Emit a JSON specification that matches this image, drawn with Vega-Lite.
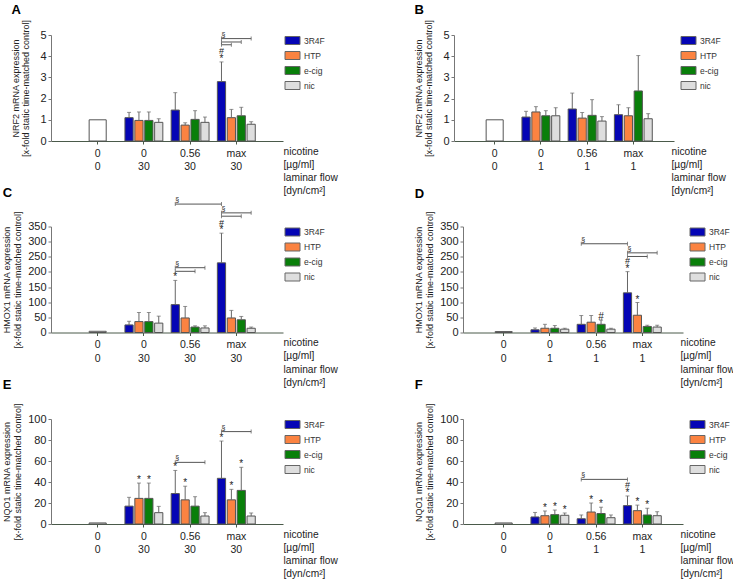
{
"$schema": "https://vega.github.io/schema/vega-lite/v6.json",
"padding": {"left": 2, "top": 4, "right": 0, "bottom": 0},
"background": "white",
"datasets": {
"bars": [
{"p":"A","c":"0|0","g":"control","v":1},
{"p":"A","c":"0|30","g":"3R4F","v":1.10,"u":1.35},
{"p":"A","c":"0|30","g":"HTP","v":0.97,"u":1.37},
{"p":"A","c":"0|30","g":"e-cig","v":0.97,"u":1.37},
{"p":"A","c":"0|30","g":"nic","v":0.88,"u":1.05},
{"p":"A","c":"0.56|30","g":"3R4F","v":1.46,"u":2.28},
{"p":"A","c":"0.56|30","g":"HTP","v":0.75,"u":0.86},
{"p":"A","c":"0.56|30","g":"e-cig","v":1.02,"u":1.43},
{"p":"A","c":"0.56|30","g":"nic","v":0.88,"u":1.13},
{"p":"A","c":"max|30","g":"3R4F","v":2.80,"u":3.73,"s":"*","h":"#"},
{"p":"A","c":"max|30","g":"HTP","v":1.10,"u":1.49},
{"p":"A","c":"max|30","g":"e-cig","v":1.19,"u":1.59},
{"p":"A","c":"max|30","g":"nic","v":0.79,"u":0.91},
{"p":"B","c":"0|0","g":"control","v":1},
{"p":"B","c":"0|1","g":"3R4F","v":1.13,"u":1.40},
{"p":"B","c":"0|1","g":"HTP","v":1.37,"u":1.62},
{"p":"B","c":"0|1","g":"e-cig","v":1.19,"u":1.43},
{"p":"B","c":"0|1","g":"nic","v":1.19,"u":1.57},
{"p":"B","c":"0.56|1","g":"3R4F","v":1.51,"u":2.26},
{"p":"B","c":"0.56|1","g":"HTP","v":1.08,"u":1.34},
{"p":"B","c":"0.56|1","g":"e-cig","v":1.21,"u":1.95},
{"p":"B","c":"0.56|1","g":"nic","v":0.94,"u":1.15},
{"p":"B","c":"max|1","g":"3R4F","v":1.24,"u":1.71},
{"p":"B","c":"max|1","g":"HTP","v":1.19,"u":1.57},
{"p":"B","c":"max|1","g":"e-cig","v":2.36,"u":4.03},
{"p":"B","c":"max|1","g":"nic","v":1.05,"u":1.29},
{"p":"C","c":"0|0","g":"control","v":4},
{"p":"C","c":"0|30","g":"3R4F","v":25,"u":37},
{"p":"C","c":"0|30","g":"HTP","v":36,"u":66},
{"p":"C","c":"0|30","g":"e-cig","v":36,"u":66},
{"p":"C","c":"0|30","g":"nic","v":31,"u":54},
{"p":"C","c":"0.56|30","g":"3R4F","v":92,"u":172,"s":"*"},
{"p":"C","c":"0.56|30","g":"HTP","v":48,"u":86},
{"p":"C","c":"0.56|30","g":"e-cig","v":18,"u":22},
{"p":"C","c":"0.56|30","g":"nic","v":15,"u":22},
{"p":"C","c":"max|30","g":"3R4F","v":230,"u":328,"s":"*","h":"#"},
{"p":"C","c":"max|30","g":"HTP","v":48,"u":73},
{"p":"C","c":"max|30","g":"e-cig","v":42,"u":53},
{"p":"C","c":"max|30","g":"nic","v":14,"u":18},
{"p":"D","c":"0|0","g":"control","v":3},
{"p":"D","c":"0|1","g":"3R4F","v":9,"u":15},
{"p":"D","c":"0|1","g":"HTP","v":14,"u":27},
{"p":"D","c":"0|1","g":"e-cig","v":14,"u":23},
{"p":"D","c":"0|1","g":"nic","v":11,"u":14},
{"p":"D","c":"0.56|1","g":"3R4F","v":27,"u":56},
{"p":"D","c":"0.56|1","g":"HTP","v":34,"u":56},
{"p":"D","c":"0.56|1","g":"e-cig","v":27,"u":41,"s":"#"},
{"p":"D","c":"0.56|1","g":"nic","v":11,"u":14},
{"p":"D","c":"max|1","g":"3R4F","v":131,"u":201,"s":"*","h":"#"},
{"p":"D","c":"max|1","g":"HTP","v":57,"u":99,"s":"*"},
{"p":"D","c":"max|1","g":"e-cig","v":20,"u":24},
{"p":"D","c":"max|1","g":"nic","v":18,"u":24},
{"p":"E","c":"0|0","g":"control","v":1},
{"p":"E","c":"0|30","g":"3R4F","v":17,"u":25.4},
{"p":"E","c":"0|30","g":"HTP","v":24.4,"u":39,"s":"*"},
{"p":"E","c":"0|30","g":"e-cig","v":24.4,"u":39,"s":"*"},
{"p":"E","c":"0|30","g":"nic","v":10.8,"u":16.8},
{"p":"E","c":"0.56|30","g":"3R4F","v":29,"u":51,"s":"*"},
{"p":"E","c":"0.56|30","g":"HTP","v":23,"u":36,"s":"*"},
{"p":"E","c":"0.56|30","g":"e-cig","v":17,"u":26},
{"p":"E","c":"0.56|30","g":"nic","v":7.6,"u":10.8},
{"p":"E","c":"max|30","g":"3R4F","v":43.5,"u":79,"s":"*"},
{"p":"E","c":"max|30","g":"HTP","v":23,"u":33,"s":"*"},
{"p":"E","c":"max|30","g":"e-cig","v":32,"u":54,"s":"*"},
{"p":"E","c":"max|30","g":"nic","v":7.6,"u":10.5},
{"p":"F","c":"0|0","g":"control","v":1},
{"p":"F","c":"0|1","g":"3R4F","v":6.7,"u":11},
{"p":"F","c":"0|1","g":"HTP","v":7.9,"u":12.4,"s":"*"},
{"p":"F","c":"0|1","g":"e-cig","v":8.9,"u":13.3,"s":"*"},
{"p":"F","c":"0|1","g":"nic","v":8.3,"u":10.5,"s":"*"},
{"p":"F","c":"0.56|1","g":"3R4F","v":5,"u":8.6},
{"p":"F","c":"0.56|1","g":"HTP","v":11.4,"u":20,"s":"*"},
{"p":"F","c":"0.56|1","g":"e-cig","v":10,"u":16,"s":"*"},
{"p":"F","c":"0.56|1","g":"nic","v":6,"u":8.6},
{"p":"F","c":"max|1","g":"3R4F","v":17.5,"u":26.7,"s":"*","h":"#"},
{"p":"F","c":"max|1","g":"HTP","v":12.7,"u":18,"s":"*"},
{"p":"F","c":"max|1","g":"e-cig","v":8.6,"u":15,"s":"*"},
{"p":"F","c":"max|1","g":"nic","v":7.9,"u":11.7}
],
"br": [
{"p":"A","id":"A1","c":"max|30","g":"3R4F","y":4.83,"s":"§"},
{"p":"A","id":"A1","c":"max|30","g":"nic","y":4.83},
{"p":"A","id":"A2","c":"max|30","g":"3R4F","y":4.67},
{"p":"A","id":"A2","c":"max|30","g":"e-cig","y":4.67},
{"p":"A","id":"A3","c":"max|30","g":"3R4F","y":4.54},
{"p":"A","id":"A3","c":"max|30","g":"HTP","y":4.54},
{"p":"C","id":"C1","c":"0.56|30","g":"3R4F","y":424,"s":"§"},
{"p":"C","id":"C1","c":"max|30","g":"3R4F","y":424},
{"p":"C","id":"C2","c":"0.56|30","g":"3R4F","y":214,"s":"§"},
{"p":"C","id":"C2","c":"0.56|30","g":"nic","y":214},
{"p":"C","id":"C3","c":"0.56|30","g":"3R4F","y":202},
{"p":"C","id":"C3","c":"0.56|30","g":"e-cig","y":202},
{"p":"C","id":"C4","c":"max|30","g":"3R4F","y":395,"s":"§"},
{"p":"C","id":"C4","c":"max|30","g":"nic","y":395},
{"p":"C","id":"C5","c":"max|30","g":"3R4F","y":384},
{"p":"C","id":"C5","c":"max|30","g":"e-cig","y":384},
{"p":"D","id":"D1","c":"0.56|1","g":"3R4F","y":293,"s":"§"},
{"p":"D","id":"D1","c":"max|1","g":"3R4F","y":293},
{"p":"D","id":"D2","c":"max|1","g":"3R4F","y":263,"s":"§"},
{"p":"D","id":"D2","c":"max|1","g":"nic","y":263},
{"p":"D","id":"D3","c":"max|1","g":"3R4F","y":251},
{"p":"D","id":"D3","c":"max|1","g":"e-cig","y":251},
{"p":"E","id":"E1","c":"0.56|30","g":"3R4F","y":58.7,"s":"§"},
{"p":"E","id":"E1","c":"0.56|30","g":"nic","y":58.7},
{"p":"E","id":"E2","c":"max|30","g":"3R4F","y":88,"s":"§"},
{"p":"E","id":"E2","c":"max|30","g":"nic","y":88},
{"p":"F","id":"F1","c":"0.56|1","g":"3R4F","y":42.5,"s":"§"},
{"p":"F","id":"F1","c":"max|1","g":"3R4F","y":42.5}
]
},
"spacing": -10.5,
"resolve": {"scale": {"color": "independent"}, "legend": {"color": "independent"}},
"vconcat": [
{"hconcat": [
{"title": {"text": "A", "offset": 2}, "width": 232, "height": 106, "layer": [
{"data": {"name": "bars"}, "transform": [{"filter": "datum.p==='A' && datum.g==='control'"}], "mark": {"type": "bar", "fill": "white", "stroke": "#555", "width": {"band": 0.45}},
 "encoding": {"x": {"field": "c", "type": "nominal", "scale": {"domain": ["0|0","0|30","0.56|30","max|30"], "paddingInner": 0.18, "paddingOuter": 0.6}, "axis": {"title": ["nicotine","[µg/ml]","laminar flow","[dyn/cm²]"], "titleX": 232}},
  "y": {"field": "v", "type": "quantitative", "scale": {"domain": [0,5], "nice": false}, "axis": {"values": [0,1,2,3,4,5], "tickCount": 6, "labelOverlap": false, "titlePadding": 9, "title": ["NRF2 mRNA expression","[x-fold static time-matched control]"]}}}},
{"data": {"name": "bars"}, "transform": [{"filter": "datum.p==='A' && datum.g!=='control'"}], "mark": {"type": "bar", "stroke": "#555"},
 "encoding": {"x": {"field": "c", "type": "nominal"}, "xOffset": {"field": "g", "type": "nominal", "scale": {"domain": ["3R4F","HTP","e-cig","nic"], "paddingInner": 0.17}}, "y": {"field": "v", "type": "quantitative", "axis": {"values": [0,1,2,3,4,5], "tickCount": 6, "labelOverlap": false, "titlePadding": 9, "title": ["NRF2 mRNA expression","[x-fold static time-matched control]"]}},
  "color": {"field": "g", "type": "nominal", "scale": {"domain": ["3R4F","HTP","e-cig","nic"], "range": ["#0505b5","#fb8341","#097f0a","#dedede"]}, "legend": {"title": null}}}},
{"data": {"name": "bars"}, "transform": [{"filter": "datum.p==='A' && datum.u!=null"}], "mark": {"type": "rule", "color": "#666"},
 "encoding": {"x": {"field": "c", "type": "nominal"}, "xOffset": {"field": "g", "type": "nominal"}, "y": {"field": "v", "type": "quantitative", "axis": {"values": [0,1,2,3,4,5], "tickCount": 6, "labelOverlap": false, "titlePadding": 9, "title": ["NRF2 mRNA expression","[x-fold static time-matched control]"]}}, "y2": {"field": "u"}}},
{"data": {"name": "bars"}, "transform": [{"filter": "datum.p==='A' && datum.u!=null"}], "mark": {"type": "tick", "color": "#666", "size": 4, "thickness": 1, "orient": "horizontal"},
 "encoding": {"x": {"field": "c", "type": "nominal"}, "xOffset": {"field": "g", "type": "nominal"}, "y": {"field": "u", "type": "quantitative", "axis": {"values": [0,1,2,3,4,5], "tickCount": 6, "labelOverlap": false, "titlePadding": 9, "title": ["NRF2 mRNA expression","[x-fold static time-matched control]"]}}}},
{"data": {"name": "bars"}, "transform": [{"filter": "datum.p==='A' && datum.s"}], "mark": {"type": "text", "baseline": "bottom", "fontSize": 10, "dy": 2, "color": "#222"},
 "encoding": {"x": {"field": "c", "type": "nominal"}, "xOffset": {"field": "g", "type": "nominal"}, "y": {"field": "u", "type": "quantitative", "axis": {"values": [0,1,2,3,4,5], "tickCount": 6, "labelOverlap": false, "titlePadding": 9, "title": ["NRF2 mRNA expression","[x-fold static time-matched control]"]}}, "text": {"field": "s"}}},
{"data": {"name": "bars"}, "transform": [{"filter": "datum.p==='A' && datum.h"}], "mark": {"type": "text", "baseline": "bottom", "fontSize": 9, "dy": -5.5, "color": "#222"},
 "encoding": {"x": {"field": "c", "type": "nominal"}, "xOffset": {"field": "g", "type": "nominal"}, "y": {"field": "u", "type": "quantitative", "axis": {"values": [0,1,2,3,4,5], "tickCount": 6, "labelOverlap": false, "titlePadding": 9, "title": ["NRF2 mRNA expression","[x-fold static time-matched control]"]}}, "text": {"field": "h"}}},
{"data": {"name": "br"}, "transform": [{"filter": "datum.p==='A'"}], "mark": {"type": "line", "color": "#555", "strokeWidth": 1},
 "encoding": {"x": {"field": "c", "type": "nominal"}, "xOffset": {"field": "g", "type": "nominal"}, "y": {"field": "y", "type": "quantitative", "axis": {"values": [0,1,2,3,4,5], "tickCount": 6, "labelOverlap": false, "titlePadding": 9, "title": ["NRF2 mRNA expression","[x-fold static time-matched control]"]}}, "detail": {"field": "id"}}},
{"data": {"name": "br"}, "transform": [{"filter": "datum.p==='A'"}], "mark": {"type": "tick", "color": "#555", "size": 4, "thickness": 1, "orient": "vertical"},
 "encoding": {"x": {"field": "c", "type": "nominal"}, "xOffset": {"field": "g", "type": "nominal"}, "y": {"field": "y", "type": "quantitative", "axis": {"values": [0,1,2,3,4,5], "tickCount": 6, "labelOverlap": false, "titlePadding": 9, "title": ["NRF2 mRNA expression","[x-fold static time-matched control]"]}}}},
{"data": {"name": "br"}, "transform": [{"filter": "datum.p==='A' && datum.s"}], "mark": {"type": "text", "align": "left", "baseline": "bottom", "fontSize": 7, "dy": -1, "color": "#222"},
 "encoding": {"x": {"field": "c", "type": "nominal"}, "xOffset": {"field": "g", "type": "nominal"}, "y": {"field": "y", "type": "quantitative", "axis": {"values": [0,1,2,3,4,5], "tickCount": 6, "labelOverlap": false, "titlePadding": 9, "title": ["NRF2 mRNA expression","[x-fold static time-matched control]"]}}, "text": {"field": "s"}}}
]},
{"title": {"text": "B", "offset": 2}, "width": 220, "height": 106, "layer": [
{"data": {"name": "bars"}, "transform": [{"filter": "datum.p==='B' && datum.g==='control'"}], "mark": {"type": "bar", "fill": "white", "stroke": "#555", "width": {"band": 0.45}},
 "encoding": {"x": {"field": "c", "type": "nominal", "scale": {"domain": ["0|0","0|1","0.56|1","max|1"], "paddingInner": 0.18, "paddingOuter": 0.47}, "axis": {"title": ["nicotine","[µg/ml]","laminar flow","[dyn/cm²]"], "titleX": 217}},
  "y": {"field": "v", "type": "quantitative", "scale": {"domain": [0,5], "nice": false}, "axis": {"values": [0,1,2,3,4,5], "tickCount": 6, "labelOverlap": false, "titlePadding": 9, "title": ["NRF2 mRNA expression","[x-fold static time-matched control]"]}}}},
{"data": {"name": "bars"}, "transform": [{"filter": "datum.p==='B' && datum.g!=='control'"}], "mark": {"type": "bar", "stroke": "#555"},
 "encoding": {"x": {"field": "c", "type": "nominal"}, "xOffset": {"field": "g", "type": "nominal", "scale": {"domain": ["3R4F","HTP","e-cig","nic"], "paddingInner": 0.17}}, "y": {"field": "v", "type": "quantitative", "axis": {"values": [0,1,2,3,4,5], "tickCount": 6, "labelOverlap": false, "titlePadding": 9, "title": ["NRF2 mRNA expression","[x-fold static time-matched control]"]}},
  "color": {"field": "g", "type": "nominal", "scale": {"domain": ["3R4F","HTP","e-cig","nic"], "range": ["#0505b5","#fb8341","#097f0a","#dedede"]}, "legend": {"title": null, "offset": 9}}}},
{"data": {"name": "bars"}, "transform": [{"filter": "datum.p==='B' && datum.u!=null"}], "mark": {"type": "rule", "color": "#666"},
 "encoding": {"x": {"field": "c", "type": "nominal"}, "xOffset": {"field": "g", "type": "nominal"}, "y": {"field": "v", "type": "quantitative", "axis": {"values": [0,1,2,3,4,5], "tickCount": 6, "labelOverlap": false, "titlePadding": 9, "title": ["NRF2 mRNA expression","[x-fold static time-matched control]"]}}, "y2": {"field": "u"}}},
{"data": {"name": "bars"}, "transform": [{"filter": "datum.p==='B' && datum.u!=null"}], "mark": {"type": "tick", "color": "#666", "size": 4, "thickness": 1, "orient": "horizontal"},
 "encoding": {"x": {"field": "c", "type": "nominal"}, "xOffset": {"field": "g", "type": "nominal"}, "y": {"field": "u", "type": "quantitative", "axis": {"values": [0,1,2,3,4,5], "tickCount": 6, "labelOverlap": false, "titlePadding": 9, "title": ["NRF2 mRNA expression","[x-fold static time-matched control]"]}}}}
]}
], "spacing": 76, "resolve": {"scale": {"color": "independent"}, "legend": {"color": "independent"}}},
{"hconcat": [
{"title": {"text": "C", "offset": -4}, "width": 232, "height": 106, "layer": [
{"data": {"name": "bars"}, "transform": [{"filter": "datum.p==='C' && datum.g==='control'"}], "mark": {"type": "bar", "fill": "white", "stroke": "#555", "width": {"band": 0.45}},
 "encoding": {"x": {"field": "c", "type": "nominal", "scale": {"domain": ["0|0","0|30","0.56|30","max|30"], "paddingInner": 0.18, "paddingOuter": 0.6}, "axis": {"title": ["nicotine","[µg/ml]","laminar flow","[dyn/cm²]"], "titleX": 232}},
  "y": {"field": "v", "type": "quantitative", "scale": {"domain": [0,350], "nice": false}, "axis": {"values": [0,50,100,150,200,250,300,350], "tickCount": 8, "labelOverlap": false, "titlePadding": 5.5, "title": ["HMOX1 mRNA expression","[x-fold static time-matched control]"]}}}},
{"data": {"name": "bars"}, "transform": [{"filter": "datum.p==='C' && datum.g!=='control'"}], "mark": {"type": "bar", "stroke": "#555"},
 "encoding": {"x": {"field": "c", "type": "nominal"}, "xOffset": {"field": "g", "type": "nominal", "scale": {"domain": ["3R4F","HTP","e-cig","nic"], "paddingInner": 0.17}}, "y": {"field": "v", "type": "quantitative", "axis": {"values": [0,50,100,150,200,250,300,350], "tickCount": 8, "labelOverlap": false, "titlePadding": 5.5, "title": ["HMOX1 mRNA expression","[x-fold static time-matched control]"]}},
  "color": {"field": "g", "type": "nominal", "scale": {"domain": ["3R4F","HTP","e-cig","nic"], "range": ["#0505b5","#fb8341","#097f0a","#dedede"]}, "legend": {"title": null}}}},
{"data": {"name": "bars"}, "transform": [{"filter": "datum.p==='C' && datum.u!=null"}], "mark": {"type": "rule", "color": "#666"},
 "encoding": {"x": {"field": "c", "type": "nominal"}, "xOffset": {"field": "g", "type": "nominal"}, "y": {"field": "v", "type": "quantitative", "axis": {"values": [0,50,100,150,200,250,300,350], "tickCount": 8, "labelOverlap": false, "titlePadding": 5.5, "title": ["HMOX1 mRNA expression","[x-fold static time-matched control]"]}}, "y2": {"field": "u"}}},
{"data": {"name": "bars"}, "transform": [{"filter": "datum.p==='C' && datum.u!=null"}], "mark": {"type": "tick", "color": "#666", "size": 4, "thickness": 1, "orient": "horizontal"},
 "encoding": {"x": {"field": "c", "type": "nominal"}, "xOffset": {"field": "g", "type": "nominal"}, "y": {"field": "u", "type": "quantitative", "axis": {"values": [0,50,100,150,200,250,300,350], "tickCount": 8, "labelOverlap": false, "titlePadding": 5.5, "title": ["HMOX1 mRNA expression","[x-fold static time-matched control]"]}}}},
{"data": {"name": "bars"}, "transform": [{"filter": "datum.p==='C' && datum.s"}], "mark": {"type": "text", "baseline": "bottom", "fontSize": 10, "dy": 2, "color": "#222"},
 "encoding": {"x": {"field": "c", "type": "nominal"}, "xOffset": {"field": "g", "type": "nominal"}, "y": {"field": "u", "type": "quantitative", "axis": {"values": [0,50,100,150,200,250,300,350], "tickCount": 8, "labelOverlap": false, "titlePadding": 5.5, "title": ["HMOX1 mRNA expression","[x-fold static time-matched control]"]}}, "text": {"field": "s"}}},
{"data": {"name": "bars"}, "transform": [{"filter": "datum.p==='C' && datum.h"}], "mark": {"type": "text", "baseline": "bottom", "fontSize": 9, "dy": -5.5, "color": "#222"},
 "encoding": {"x": {"field": "c", "type": "nominal"}, "xOffset": {"field": "g", "type": "nominal"}, "y": {"field": "u", "type": "quantitative", "axis": {"values": [0,50,100,150,200,250,300,350], "tickCount": 8, "labelOverlap": false, "titlePadding": 5.5, "title": ["HMOX1 mRNA expression","[x-fold static time-matched control]"]}}, "text": {"field": "h"}}},
{"data": {"name": "br"}, "transform": [{"filter": "datum.p==='C'"}], "mark": {"type": "line", "color": "#555", "strokeWidth": 1},
 "encoding": {"x": {"field": "c", "type": "nominal"}, "xOffset": {"field": "g", "type": "nominal"}, "y": {"field": "y", "type": "quantitative", "axis": {"values": [0,50,100,150,200,250,300,350], "tickCount": 8, "labelOverlap": false, "titlePadding": 5.5, "title": ["HMOX1 mRNA expression","[x-fold static time-matched control]"]}}, "detail": {"field": "id"}}},
{"data": {"name": "br"}, "transform": [{"filter": "datum.p==='C'"}], "mark": {"type": "tick", "color": "#555", "size": 4, "thickness": 1, "orient": "vertical"},
 "encoding": {"x": {"field": "c", "type": "nominal"}, "xOffset": {"field": "g", "type": "nominal"}, "y": {"field": "y", "type": "quantitative", "axis": {"values": [0,50,100,150,200,250,300,350], "tickCount": 8, "labelOverlap": false, "titlePadding": 5.5, "title": ["HMOX1 mRNA expression","[x-fold static time-matched control]"]}}}},
{"data": {"name": "br"}, "transform": [{"filter": "datum.p==='C' && datum.s"}], "mark": {"type": "text", "align": "left", "baseline": "bottom", "fontSize": 7, "dy": -1, "color": "#222"},
 "encoding": {"x": {"field": "c", "type": "nominal"}, "xOffset": {"field": "g", "type": "nominal"}, "y": {"field": "y", "type": "quantitative", "axis": {"values": [0,50,100,150,200,250,300,350], "tickCount": 8, "labelOverlap": false, "titlePadding": 5.5, "title": ["HMOX1 mRNA expression","[x-fold static time-matched control]"]}}, "text": {"field": "s"}}}
]},
{"title": {"text": "D", "offset": 10}, "width": 220, "height": 106, "layer": [
{"data": {"name": "bars"}, "transform": [{"filter": "datum.p==='D' && datum.g==='control'"}], "mark": {"type": "bar", "fill": "white", "stroke": "#555", "width": {"band": 0.45}},
 "encoding": {"x": {"field": "c", "type": "nominal", "scale": {"domain": ["0|0","0|1","0.56|1","max|1"], "paddingInner": 0.18, "paddingOuter": 0.47}, "axis": {"title": ["nicotine","[µg/ml]","laminar flow","[dyn/cm²]"], "titleX": 217}},
  "y": {"field": "v", "type": "quantitative", "scale": {"domain": [0,350], "nice": false}, "axis": {"values": [0,50,100,150,200,250,300,350], "tickCount": 8, "labelOverlap": false, "titlePadding": 5.5, "title": ["HMOX1 mRNA expression","[x-fold static time-matched control]"]}}}},
{"data": {"name": "bars"}, "transform": [{"filter": "datum.p==='D' && datum.g!=='control'"}], "mark": {"type": "bar", "stroke": "#555"},
 "encoding": {"x": {"field": "c", "type": "nominal"}, "xOffset": {"field": "g", "type": "nominal", "scale": {"domain": ["3R4F","HTP","e-cig","nic"], "paddingInner": 0.17}}, "y": {"field": "v", "type": "quantitative", "axis": {"values": [0,50,100,150,200,250,300,350], "tickCount": 8, "labelOverlap": false, "titlePadding": 5.5, "title": ["HMOX1 mRNA expression","[x-fold static time-matched control]"]}},
  "color": {"field": "g", "type": "nominal", "scale": {"domain": ["3R4F","HTP","e-cig","nic"], "range": ["#0505b5","#fb8341","#097f0a","#dedede"]}, "legend": {"title": null, "offset": 9}}}},
{"data": {"name": "bars"}, "transform": [{"filter": "datum.p==='D' && datum.u!=null"}], "mark": {"type": "rule", "color": "#666"},
 "encoding": {"x": {"field": "c", "type": "nominal"}, "xOffset": {"field": "g", "type": "nominal"}, "y": {"field": "v", "type": "quantitative", "axis": {"values": [0,50,100,150,200,250,300,350], "tickCount": 8, "labelOverlap": false, "titlePadding": 5.5, "title": ["HMOX1 mRNA expression","[x-fold static time-matched control]"]}}, "y2": {"field": "u"}}},
{"data": {"name": "bars"}, "transform": [{"filter": "datum.p==='D' && datum.u!=null"}], "mark": {"type": "tick", "color": "#666", "size": 4, "thickness": 1, "orient": "horizontal"},
 "encoding": {"x": {"field": "c", "type": "nominal"}, "xOffset": {"field": "g", "type": "nominal"}, "y": {"field": "u", "type": "quantitative", "axis": {"values": [0,50,100,150,200,250,300,350], "tickCount": 8, "labelOverlap": false, "titlePadding": 5.5, "title": ["HMOX1 mRNA expression","[x-fold static time-matched control]"]}}}},
{"data": {"name": "bars"}, "transform": [{"filter": "datum.p==='D' && datum.s"}], "mark": {"type": "text", "baseline": "bottom", "fontSize": 10, "dy": 2, "color": "#222"},
 "encoding": {"x": {"field": "c", "type": "nominal"}, "xOffset": {"field": "g", "type": "nominal"}, "y": {"field": "u", "type": "quantitative", "axis": {"values": [0,50,100,150,200,250,300,350], "tickCount": 8, "labelOverlap": false, "titlePadding": 5.5, "title": ["HMOX1 mRNA expression","[x-fold static time-matched control]"]}}, "text": {"field": "s"}}},
{"data": {"name": "bars"}, "transform": [{"filter": "datum.p==='D' && datum.h"}], "mark": {"type": "text", "baseline": "bottom", "fontSize": 9, "dy": -5.5, "color": "#222"},
 "encoding": {"x": {"field": "c", "type": "nominal"}, "xOffset": {"field": "g", "type": "nominal"}, "y": {"field": "u", "type": "quantitative", "axis": {"values": [0,50,100,150,200,250,300,350], "tickCount": 8, "labelOverlap": false, "titlePadding": 5.5, "title": ["HMOX1 mRNA expression","[x-fold static time-matched control]"]}}, "text": {"field": "h"}}},
{"data": {"name": "br"}, "transform": [{"filter": "datum.p==='D'"}], "mark": {"type": "line", "color": "#555", "strokeWidth": 1},
 "encoding": {"x": {"field": "c", "type": "nominal"}, "xOffset": {"field": "g", "type": "nominal"}, "y": {"field": "y", "type": "quantitative", "axis": {"values": [0,50,100,150,200,250,300,350], "tickCount": 8, "labelOverlap": false, "titlePadding": 5.5, "title": ["HMOX1 mRNA expression","[x-fold static time-matched control]"]}}, "detail": {"field": "id"}}},
{"data": {"name": "br"}, "transform": [{"filter": "datum.p==='D'"}], "mark": {"type": "tick", "color": "#555", "size": 4, "thickness": 1, "orient": "vertical"},
 "encoding": {"x": {"field": "c", "type": "nominal"}, "xOffset": {"field": "g", "type": "nominal"}, "y": {"field": "y", "type": "quantitative", "axis": {"values": [0,50,100,150,200,250,300,350], "tickCount": 8, "labelOverlap": false, "titlePadding": 5.5, "title": ["HMOX1 mRNA expression","[x-fold static time-matched control]"]}}}},
{"data": {"name": "br"}, "transform": [{"filter": "datum.p==='D' && datum.s"}], "mark": {"type": "text", "align": "left", "baseline": "bottom", "fontSize": 7, "dy": -1, "color": "#222"},
 "encoding": {"x": {"field": "c", "type": "nominal"}, "xOffset": {"field": "g", "type": "nominal"}, "y": {"field": "y", "type": "quantitative", "axis": {"values": [0,50,100,150,200,250,300,350], "tickCount": 8, "labelOverlap": false, "titlePadding": 5.5, "title": ["HMOX1 mRNA expression","[x-fold static time-matched control]"]}}, "text": {"field": "s"}}}
]}
], "spacing": 76, "resolve": {"scale": {"color": "independent"}, "legend": {"color": "independent"}}},
{"hconcat": [
{"title": {"text": "E", "offset": 11}, "width": 232, "height": 105, "layer": [
{"data": {"name": "bars"}, "transform": [{"filter": "datum.p==='E' && datum.g==='control'"}], "mark": {"type": "bar", "fill": "white", "stroke": "#555", "width": {"band": 0.45}},
 "encoding": {"x": {"field": "c", "type": "nominal", "scale": {"domain": ["0|0","0|30","0.56|30","max|30"], "paddingInner": 0.18, "paddingOuter": 0.6}, "axis": {"title": ["nicotine","[µg/ml]","laminar flow","[dyn/cm²]"], "titleX": 232}},
  "y": {"field": "v", "type": "quantitative", "scale": {"domain": [0,100], "nice": false}, "axis": {"values": [0,20,40,60,80,100], "tickCount": 6, "labelOverlap": false, "titlePadding": 5.5, "title": ["NQO1 mRNA expression","[x-fold static time-matched control]"]}}}},
{"data": {"name": "bars"}, "transform": [{"filter": "datum.p==='E' && datum.g!=='control'"}], "mark": {"type": "bar", "stroke": "#555"},
 "encoding": {"x": {"field": "c", "type": "nominal"}, "xOffset": {"field": "g", "type": "nominal", "scale": {"domain": ["3R4F","HTP","e-cig","nic"], "paddingInner": 0.17}}, "y": {"field": "v", "type": "quantitative", "axis": {"values": [0,20,40,60,80,100], "tickCount": 6, "labelOverlap": false, "titlePadding": 5.5, "title": ["NQO1 mRNA expression","[x-fold static time-matched control]"]}},
  "color": {"field": "g", "type": "nominal", "scale": {"domain": ["3R4F","HTP","e-cig","nic"], "range": ["#0505b5","#fb8341","#097f0a","#dedede"]}, "legend": {"title": null}}}},
{"data": {"name": "bars"}, "transform": [{"filter": "datum.p==='E' && datum.u!=null"}], "mark": {"type": "rule", "color": "#666"},
 "encoding": {"x": {"field": "c", "type": "nominal"}, "xOffset": {"field": "g", "type": "nominal"}, "y": {"field": "v", "type": "quantitative", "axis": {"values": [0,20,40,60,80,100], "tickCount": 6, "labelOverlap": false, "titlePadding": 5.5, "title": ["NQO1 mRNA expression","[x-fold static time-matched control]"]}}, "y2": {"field": "u"}}},
{"data": {"name": "bars"}, "transform": [{"filter": "datum.p==='E' && datum.u!=null"}], "mark": {"type": "tick", "color": "#666", "size": 4, "thickness": 1, "orient": "horizontal"},
 "encoding": {"x": {"field": "c", "type": "nominal"}, "xOffset": {"field": "g", "type": "nominal"}, "y": {"field": "u", "type": "quantitative", "axis": {"values": [0,20,40,60,80,100], "tickCount": 6, "labelOverlap": false, "titlePadding": 5.5, "title": ["NQO1 mRNA expression","[x-fold static time-matched control]"]}}}},
{"data": {"name": "bars"}, "transform": [{"filter": "datum.p==='E' && datum.s"}], "mark": {"type": "text", "baseline": "bottom", "fontSize": 10, "dy": 2, "color": "#222"},
 "encoding": {"x": {"field": "c", "type": "nominal"}, "xOffset": {"field": "g", "type": "nominal"}, "y": {"field": "u", "type": "quantitative", "axis": {"values": [0,20,40,60,80,100], "tickCount": 6, "labelOverlap": false, "titlePadding": 5.5, "title": ["NQO1 mRNA expression","[x-fold static time-matched control]"]}}, "text": {"field": "s"}}},
{"data": {"name": "br"}, "transform": [{"filter": "datum.p==='E'"}], "mark": {"type": "line", "color": "#555", "strokeWidth": 1},
 "encoding": {"x": {"field": "c", "type": "nominal"}, "xOffset": {"field": "g", "type": "nominal"}, "y": {"field": "y", "type": "quantitative", "axis": {"values": [0,20,40,60,80,100], "tickCount": 6, "labelOverlap": false, "titlePadding": 5.5, "title": ["NQO1 mRNA expression","[x-fold static time-matched control]"]}}, "detail": {"field": "id"}}},
{"data": {"name": "br"}, "transform": [{"filter": "datum.p==='E'"}], "mark": {"type": "tick", "color": "#555", "size": 4, "thickness": 1, "orient": "vertical"},
 "encoding": {"x": {"field": "c", "type": "nominal"}, "xOffset": {"field": "g", "type": "nominal"}, "y": {"field": "y", "type": "quantitative", "axis": {"values": [0,20,40,60,80,100], "tickCount": 6, "labelOverlap": false, "titlePadding": 5.5, "title": ["NQO1 mRNA expression","[x-fold static time-matched control]"]}}}},
{"data": {"name": "br"}, "transform": [{"filter": "datum.p==='E' && datum.s"}], "mark": {"type": "text", "align": "left", "baseline": "bottom", "fontSize": 7, "dy": -1, "color": "#222"},
 "encoding": {"x": {"field": "c", "type": "nominal"}, "xOffset": {"field": "g", "type": "nominal"}, "y": {"field": "y", "type": "quantitative", "axis": {"values": [0,20,40,60,80,100], "tickCount": 6, "labelOverlap": false, "titlePadding": 5.5, "title": ["NQO1 mRNA expression","[x-fold static time-matched control]"]}}, "text": {"field": "s"}}}
]},
{"title": {"text": "F", "offset": 11}, "width": 220, "height": 105, "layer": [
{"data": {"name": "bars"}, "transform": [{"filter": "datum.p==='F' && datum.g==='control'"}], "mark": {"type": "bar", "fill": "white", "stroke": "#555", "width": {"band": 0.45}},
 "encoding": {"x": {"field": "c", "type": "nominal", "scale": {"domain": ["0|0","0|1","0.56|1","max|1"], "paddingInner": 0.18, "paddingOuter": 0.47}, "axis": {"title": ["nicotine","[µg/ml]","laminar flow","[dyn/cm²]"], "titleX": 217}},
  "y": {"field": "v", "type": "quantitative", "scale": {"domain": [0,100], "nice": false}, "axis": {"values": [0,20,40,60,80,100], "tickCount": 6, "labelOverlap": false, "titlePadding": 5.5, "title": ["NQO1 mRNA expression","[x-fold static time-matched control]"]}}}},
{"data": {"name": "bars"}, "transform": [{"filter": "datum.p==='F' && datum.g!=='control'"}], "mark": {"type": "bar", "stroke": "#555"},
 "encoding": {"x": {"field": "c", "type": "nominal"}, "xOffset": {"field": "g", "type": "nominal", "scale": {"domain": ["3R4F","HTP","e-cig","nic"], "paddingInner": 0.17}}, "y": {"field": "v", "type": "quantitative", "axis": {"values": [0,20,40,60,80,100], "tickCount": 6, "labelOverlap": false, "titlePadding": 5.5, "title": ["NQO1 mRNA expression","[x-fold static time-matched control]"]}},
  "color": {"field": "g", "type": "nominal", "scale": {"domain": ["3R4F","HTP","e-cig","nic"], "range": ["#0505b5","#fb8341","#097f0a","#dedede"]}, "legend": {"title": null, "offset": 9}}}},
{"data": {"name": "bars"}, "transform": [{"filter": "datum.p==='F' && datum.u!=null"}], "mark": {"type": "rule", "color": "#666"},
 "encoding": {"x": {"field": "c", "type": "nominal"}, "xOffset": {"field": "g", "type": "nominal"}, "y": {"field": "v", "type": "quantitative", "axis": {"values": [0,20,40,60,80,100], "tickCount": 6, "labelOverlap": false, "titlePadding": 5.5, "title": ["NQO1 mRNA expression","[x-fold static time-matched control]"]}}, "y2": {"field": "u"}}},
{"data": {"name": "bars"}, "transform": [{"filter": "datum.p==='F' && datum.u!=null"}], "mark": {"type": "tick", "color": "#666", "size": 4, "thickness": 1, "orient": "horizontal"},
 "encoding": {"x": {"field": "c", "type": "nominal"}, "xOffset": {"field": "g", "type": "nominal"}, "y": {"field": "u", "type": "quantitative", "axis": {"values": [0,20,40,60,80,100], "tickCount": 6, "labelOverlap": false, "titlePadding": 5.5, "title": ["NQO1 mRNA expression","[x-fold static time-matched control]"]}}}},
{"data": {"name": "bars"}, "transform": [{"filter": "datum.p==='F' && datum.s"}], "mark": {"type": "text", "baseline": "bottom", "fontSize": 10, "dy": 2, "color": "#222"},
 "encoding": {"x": {"field": "c", "type": "nominal"}, "xOffset": {"field": "g", "type": "nominal"}, "y": {"field": "u", "type": "quantitative", "axis": {"values": [0,20,40,60,80,100], "tickCount": 6, "labelOverlap": false, "titlePadding": 5.5, "title": ["NQO1 mRNA expression","[x-fold static time-matched control]"]}}, "text": {"field": "s"}}},
{"data": {"name": "bars"}, "transform": [{"filter": "datum.p==='F' && datum.h"}], "mark": {"type": "text", "baseline": "bottom", "fontSize": 9, "dy": -5.5, "color": "#222"},
 "encoding": {"x": {"field": "c", "type": "nominal"}, "xOffset": {"field": "g", "type": "nominal"}, "y": {"field": "u", "type": "quantitative", "axis": {"values": [0,20,40,60,80,100], "tickCount": 6, "labelOverlap": false, "titlePadding": 5.5, "title": ["NQO1 mRNA expression","[x-fold static time-matched control]"]}}, "text": {"field": "h"}}},
{"data": {"name": "br"}, "transform": [{"filter": "datum.p==='F'"}], "mark": {"type": "line", "color": "#555", "strokeWidth": 1},
 "encoding": {"x": {"field": "c", "type": "nominal"}, "xOffset": {"field": "g", "type": "nominal"}, "y": {"field": "y", "type": "quantitative", "axis": {"values": [0,20,40,60,80,100], "tickCount": 6, "labelOverlap": false, "titlePadding": 5.5, "title": ["NQO1 mRNA expression","[x-fold static time-matched control]"]}}, "detail": {"field": "id"}}},
{"data": {"name": "br"}, "transform": [{"filter": "datum.p==='F'"}], "mark": {"type": "tick", "color": "#555", "size": 4, "thickness": 1, "orient": "vertical"},
 "encoding": {"x": {"field": "c", "type": "nominal"}, "xOffset": {"field": "g", "type": "nominal"}, "y": {"field": "y", "type": "quantitative", "axis": {"values": [0,20,40,60,80,100], "tickCount": 6, "labelOverlap": false, "titlePadding": 5.5, "title": ["NQO1 mRNA expression","[x-fold static time-matched control]"]}}}},
{"data": {"name": "br"}, "transform": [{"filter": "datum.p==='F' && datum.s"}], "mark": {"type": "text", "align": "left", "baseline": "bottom", "fontSize": 7, "dy": -1, "color": "#222"},
 "encoding": {"x": {"field": "c", "type": "nominal"}, "xOffset": {"field": "g", "type": "nominal"}, "y": {"field": "y", "type": "quantitative", "axis": {"values": [0,20,40,60,80,100], "tickCount": 6, "labelOverlap": false, "titlePadding": 5.5, "title": ["NQO1 mRNA expression","[x-fold static time-matched control]"]}}, "text": {"field": "s"}}}
]}
], "spacing": 76, "resolve": {"scale": {"color": "independent"}, "legend": {"color": "independent"}}}
],
"config": {
 "font": "Liberation Sans",
 "view": {"stroke": null},
 "title": {"anchor": "start", "frame": "bounds", "fontSize": 13, "fontWeight": "bold", "color": "#000"},
 "axis": {"grid": false, "labelColor": "#222", "titleColor": "#222", "labelOverlap": false},
 "axisX": {"labelAngle": 0, "labelFontSize": 10.5, "labelLineHeight": 13.5, "labelPadding": 4, "tickSize": 3, "tickColor": "#4a5a4a", "domainColor": "#4a5a4a", "titleFontSize": 10.2, "titleFontWeight": "normal", "titleAngle": 0, "titleAlign": "left", "titleBaseline": "top", "titleLineHeight": 13.3, "titleY": 5, "labelExpr": "[split(datum.label,'|')[0], ' ', split(datum.label,'|')[1]]"},
 "axisY": {"labelFontSize": 11, "labelOverlap": false, "tickSize": 3, "tickColor": "#777", "domainColor": "#777", "labelPadding": 2, "titleFontSize": 9, "titleFontWeight": "normal", "titleLineHeight": 10.5},
 "legend": {"symbolType": "M-1.5,-0.8H1.5V0.8H-1.5Z", "symbolSize": 100, "symbolStrokeColor": "#666", "symbolStrokeWidth": 1, "symbolOpacity": 1, "labelFontSize": 8.5, "labelColor": "#333", "rowPadding": 2, "offset": 4, "labelOffset": 6}
}
}
